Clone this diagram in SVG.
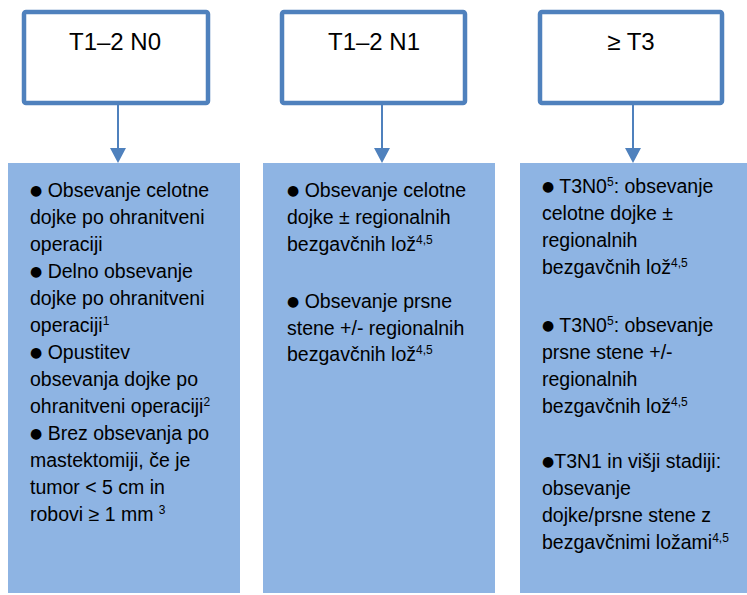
<svg xmlns="http://www.w3.org/2000/svg" width="747" height="595" viewBox="0 0 747 595">
  <defs>
    <style>
      .head { fill: #ffffff; stroke: #4f81bd; stroke-width: 4.5; }
      .panel { fill: #8eb4e3; stroke: none; }
      .title { font-family: "Liberation Sans", Arial, sans-serif; font-size: 24px; fill: #000000; text-anchor: middle; }
      .body { font-family: "Liberation Sans", Arial, sans-serif; font-size: 19.5px; fill: #000000; }
      .bul { font-family: "DejaVu Sans", sans-serif; font-size: 14px; baseline-shift: 2px; }
      .sup { font-size: 12px; }
      .wire { stroke: #4f81bd; stroke-width: 2; fill: none; }
      .tip { fill: #4f81bd; }
    </style>
  </defs>

  <!-- stage boxes -->
  <g id="n-t12n0">
    <rect class="head" x="24" y="12" width="184" height="91" rx="2"/>
    <text class="title" x="115" y="50">T1–2 N0</text>
  </g>
  <g id="n-t12n1">
    <rect class="head" x="282" y="12" width="183" height="91" rx="2"/>
    <text class="title" x="374" y="50">T1–2 N1</text>
  </g>
  <g id="n-t3">
    <rect class="head" x="540" y="12" width="182" height="91" rx="2"/>
    <text class="title" x="631" y="50">≥ T3</text>
  </g>

  <!-- treatment panels -->
  <g id="n-rt-n0">
    <rect class="panel" x="8" y="163" width="232" height="430"/>
    <text class="body">
      <tspan x="30" y="197"><tspan class="bul">●</tspan> Obsevanje celotne</tspan>
      <tspan x="30" y="224">dojke po ohranitveni</tspan>
      <tspan x="30" y="251">operaciji</tspan>
      <tspan x="30" y="278"><tspan class="bul">●</tspan> Delno obsevanje</tspan>
      <tspan x="30" y="305">dojke po ohranitveni</tspan>
      <tspan x="30" y="332">operaciji<tspan class="sup" dy="-7">1</tspan></tspan>
      <tspan x="30" y="359"><tspan class="bul">●</tspan> Opustitev</tspan>
      <tspan x="30" y="386">obsevanja dojke po</tspan>
      <tspan x="30" y="413">ohranitveni operaciji<tspan class="sup" dy="-7">2</tspan></tspan>
      <tspan x="30" y="440"><tspan class="bul">●</tspan> Brez obsevanja po</tspan>
      <tspan x="30" y="467">mastektomiji, če je</tspan>
      <tspan x="30" y="494">tumor &lt; 5 cm in</tspan>
      <tspan x="30" y="521">robovi ≥ 1 mm <tspan class="sup" dy="-7">3</tspan></tspan>
    </text>
  </g>
  <g id="n-rt-n1">
    <rect class="panel" x="263" y="163" width="232" height="430"/>
    <text class="body">
      <tspan x="287" y="197"><tspan class="bul">●</tspan> Obsevanje celotne</tspan>
      <tspan x="287" y="224">dojke ± regionalnih</tspan>
      <tspan x="287" y="251">bezgavčnih lož<tspan class="sup" dy="-7">4,5</tspan></tspan>
      <tspan x="287" y="308"><tspan class="bul">●</tspan> Obsevanje prsne</tspan>
      <tspan x="287" y="335">stene +/- regionalnih</tspan>
      <tspan x="287" y="361">bezgavčnih lož<tspan class="sup" dy="-7">4,5</tspan></tspan>
    </text>
  </g>
  <g id="n-rt-t3">
    <rect class="panel" x="520" y="163" width="227" height="430"/>
    <text class="body">
      <tspan x="542" y="193"><tspan class="bul">●</tspan> T3N0<tspan class="sup" dy="-7">5</tspan><tspan dy="7">: obsevanje</tspan></tspan>
      <tspan x="542" y="220">celotne dojke ±</tspan>
      <tspan x="542" y="247">regionalnih</tspan>
      <tspan x="542" y="274">bezgavčnih lož<tspan class="sup" dy="-7">4,5</tspan></tspan>
      <tspan x="542" y="332"><tspan class="bul">●</tspan> T3N0<tspan class="sup" dy="-7">5</tspan><tspan dy="7">: obsevanje</tspan></tspan>
      <tspan x="542" y="359">prsne stene +/-</tspan>
      <tspan x="542" y="386">regionalnih</tspan>
      <tspan x="542" y="413">bezgavčnih lož<tspan class="sup" dy="-7">4,5</tspan></tspan>
      <tspan x="542" y="468"><tspan class="bul">●</tspan>T3N1 in višji stadiji:</tspan>
      <tspan x="542" y="495">obsevanje</tspan>
      <tspan x="542" y="522">dojke/prsne stene z</tspan>
      <tspan x="542" y="549">bezgavčnimi ložami<tspan class="sup" dy="-7">4,5</tspan></tspan>
    </text>
  </g>

  <!-- connectors: stem plus filled arrowhead -->
  <g id="connectors">
    <path class="wire" d="M118,105 V149"/>
    <path class="wire" d="M382,105 V149"/>
    <path class="wire" d="M633,105 V149"/>
    <polygon class="tip" points="110,148 126,148 118,163"/>
    <polygon class="tip" points="374,148 390,148 382,163"/>
    <polygon class="tip" points="625,148 641,148 633,163"/>
  </g>
</svg>
